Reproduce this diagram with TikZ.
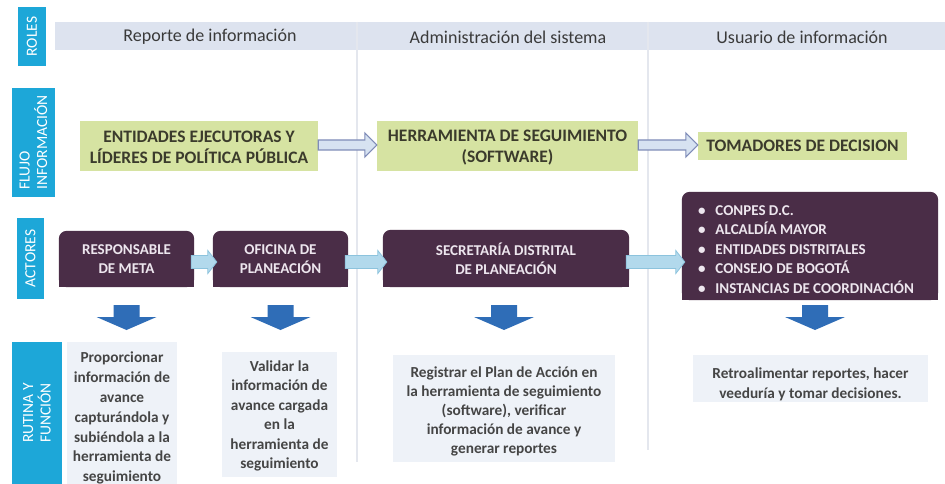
\documentclass[tikz,border=0pt]{standalone}
\usepackage{fontspec}
\setmainfont{Carlito}
\usetikzlibrary{calc,backgrounds}
\definecolor{cyanlab}{HTML}{1DA7D8}
\definecolor{band}{HTML}{DDE3EF}
\definecolor{sepc}{HTML}{E4E7EE}
\definecolor{hdrtext}{HTML}{3A3A3A}
\definecolor{greenbox}{HTML}{D6E3A2}
\definecolor{greentext}{HTML}{3B3B2C}
\definecolor{purplebox}{HTML}{4A2D47}
\definecolor{ptext}{HTML}{EDE6EE}
\definecolor{tboxc}{HTML}{EEF2F8}
\definecolor{ttext}{HTML}{454545}
\definecolor{darrowc}{HTML}{2F6DB7}
\definecolor{oarrowfill}{HTML}{D6E2F1}
\definecolor{oarrowdraw}{HTML}{7F8CB8}
\definecolor{barrowfill}{HTML}{B2D9EC}
\definecolor{barrowdraw}{HTML}{8CC3DD}
\begin{document}
\begin{tikzpicture}[x=1pt,y=-1pt,
  lab/.style={fill=cyanlab, text=white, font=\fontsize{15.5}{17.5}\selectfont, rotate=90, inner sep=0pt},
  hdr/.style={text=hdrtext, font=\fontsize{18}{21}\selectfont},
  gbox/.style={fill=greenbox, text=greentext, font=\bfseries\fontsize{17.5}{21}\selectfont, align=center, inner sep=0pt},
  pbox/.style={text=ptext, font=\bfseries\fontsize{15}{19}\selectfont, align=center, inner sep=0pt},
  tbox/.style={fill=tboxc, text=ttext, font=\bfseries\fontsize{15.3}{19.5}\selectfont, align=center, inner sep=0pt},
  sepline/.style={draw=sepc, line width=1.2pt},
  oarrow/.style={fill=oarrowfill, draw=oarrowdraw, line width=1.1pt},
  barrow/.style={fill=barrowfill, draw=barrowdraw, line width=0.8pt},
  darrow/.style={fill=darrowc},
]
\useasboundingbox (0,0) rectangle (945,484);
\begin{scope}[on background layer]
  \fill[white] (0,0) rectangle (945,484);
\end{scope}

% header band and column separators
\fill[band] (55,22) rectangle (945,50);
\draw[sepline] (357,22) -- (357,462);
\draw[sepline] (648,22) -- (648,450);

% left labels
\node[lab, minimum width=59, minimum height=28] (rl) at (32,36.5) {ROLES};
\node[lab, minimum width=109, minimum height=43, align=left] (fl) at (33.5,142.5) {FLUJO\\INFORMACIÓN};
\node[lab, minimum width=81, minimum height=27] (ac) at (30.5,258.5) {ACTORES};
\node[lab, minimum width=142, minimum height=50, align=left] (ru) at (37,413) {RUTINA Y\\FUNCIÓN};

% header texts
\node[hdr] (h1) at (210,37) {Reporte de información};
\node[hdr] (h2) at (508,37) {Administración del sistema};
\node[hdr] (h3) at (802,37) {Usuario de información};

% information flow
\node[gbox, minimum width=238, minimum height=50] (g1) at (199,146) {\rule{0pt}{15pt}ENTIDADES EJECUTORAS Y\\LÍDERES DE POLÍTICA PÚBLICA};
\node[gbox, minimum width=261, minimum height=50] (g2) at (507.5,146) {\rule{0pt}{15pt}HERRAMIENTA DE SEGUIMIENTO\\(SOFTWARE)};
\node[gbox, minimum width=209, minimum height=28] (g3) at (802.5,146) {TOMADORES DE DECISION};

% actors
\node[pbox, minimum width=135, minimum height=56] (p1) at (126.5,259) {RESPONSABLE\\DE META};
\node[pbox, minimum width=135, minimum height=56] (p2) at (280.5,259) {OFICINA DE\\PLANEACIÓN};
\node[pbox, minimum width=246, minimum height=57] (p3) at (506,258.5) {SECRETARÍA DISTRITAL\\DE PLANEACIÓN};
\node[pbox, minimum width=256, minimum height=108, align=left, font=\bfseries\fontsize{15}{19.5}\selectfont] (p4) at (806,246)
  {\rule{0pt}{17pt}\textbullet\hspace{10pt}CONPES D.C.\\
   \textbullet\hspace{10pt}ALCALDÍA MAYOR\\
   \textbullet\hspace{10pt}ENTIDADES DISTRITALES\\
   \textbullet\hspace{10pt}CONSEJO DE BOGOTÁ\\
   \textbullet\hspace{10pt}INSTANCIAS DE COORDINACIÓN};

\begin{scope}[on background layer]
  \foreach \n/\dx in {p1/0pt,p2/0pt,p3/0pt,p4/4pt} {
    \fill[purplebox, rounded corners=8pt] ([xshift=\dx]\n.south west) rectangle ([xshift=\dx]\n.north east);
    \fill[purplebox] ([xshift=\dx]\n.south west) rectangle ([xshift=\dx]\n.east);
  }
\end{scope}

% routine and function
\node[tbox, minimum width=110, minimum height=142, font=\bfseries\fontsize{15.3}{19.8}\selectfont] (t1) at (122,413)
  {\rule{0pt}{21pt}Proporcionar\\información de\\avance\\capturándola y\\subiéndola a la\\herramienta de\\seguimiento};
\node[tbox, minimum width=115, minimum height=125] (t2) at (279.5,414.5)
  {\rule{0pt}{14pt}Validar la\\información de\\avance cargada\\en la\\herramienta de\\seguimiento};
\node[tbox, minimum width=222, minimum height=107, font=\bfseries\fontsize{15.3}{19}\selectfont] (t3) at (504,408.5)
  {\rule{0pt}{16pt}Registrar el Plan de Acción en\\la herramienta de seguimiento\\(software), verificar\\información de avance y\\generar reportes};
\node[tbox, minimum width=235, minimum height=47] (t4) at (810.5,378.5)
  {\rule{0pt}{22pt}Retroalimentar reportes, hacer\\veeduría y tomar decisiones.};

% outline arrows (information flow)
\foreach \a/\b in {g1/g2, g2/g3} {
  \draw[oarrow] let \p1=([yshift=1pt]\a.east), \p2=(\b.west) in
    (\x1,\y1+5pt) -- (\x2-12pt,\y1+5pt) -- (\x2-12pt,\y1+12pt) -- (\x2,\y1)
    -- (\x2-12pt,\y1-12pt) -- (\x2-12pt,\y1-5pt) -- (\x1,\y1-5pt) -- cycle;
}

% light blue arrows between actors
\foreach \a/\b/\s/\e in {p1/p2/-3pt/4pt, p2/p3/-3pt/4pt, p3/p4/-3.5pt/7pt} {
  \draw[barrow] let \p1=([xshift=-3pt,yshift=\s]\a.east), \p2=([xshift=\e]\b.west) in
    (\x1,\y1+6.5pt) -- (\x2-9pt,\y1+6.5pt) -- (\x2-9pt,\y1+11.5pt) -- (\x2,\y1)
    -- (\x2-9pt,\y1-11.5pt) -- (\x2-9pt,\y1-6.5pt) -- (\x1,\y1-6.5pt) -- cycle;
}

% blue down arrows
\foreach \a/\b/\dx in {p1/t1/0pt, p2/t2/0pt, p3/t3/-2pt, p4/t4/9pt} {
  \fill[darrow] let \p1=([xshift=\dx]\a.south), \p2=(\b.north) in
    (\x1-13pt,-305pt) -- (\x1+13pt,-305pt) -- (\x1+13pt,-317pt) -- (\x1+30pt,-317pt)
    -- (\x1,-330pt) -- (\x1-30pt,-317pt) -- (\x1-13pt,-317pt) -- cycle;
}
\end{tikzpicture}
\end{document}
